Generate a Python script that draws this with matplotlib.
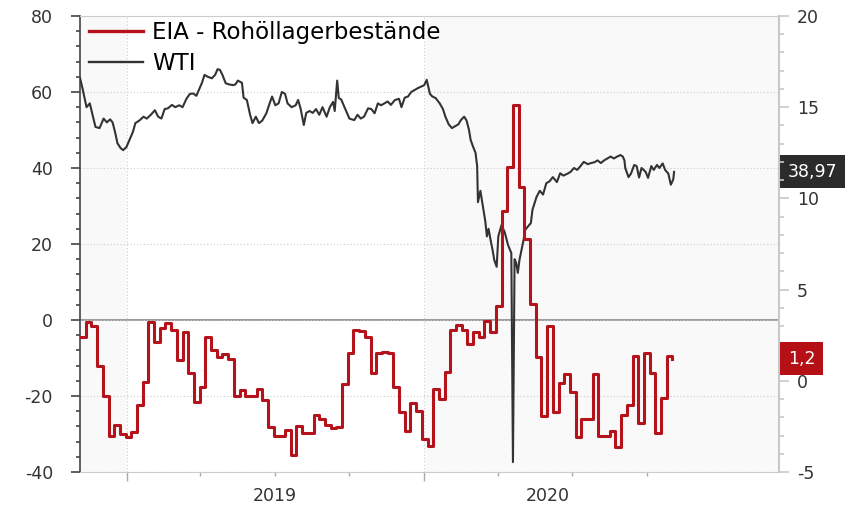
import pandas as pd
import matplotlib.pyplot as plt
import matplotlib.transforms as mtransforms
from matplotlib.lines import Line2D
from matplotlib.ticker import MultipleLocator, NullFormatter

plt.rcParams['font.family'] = 'DejaVu Sans'
plt.rcParams['axes.unicode_minus'] = False

# WTI daily-ish closes (left axis)
wti_dates = [
    '2018-11-04', '2018-11-07', '2018-11-12', '2018-11-16', '2018-11-20', '2018-11-23', '2018-11-28',
    '2018-12-03', '2018-12-07', '2018-12-11', '2018-12-14', '2018-12-17', '2018-12-20', '2018-12-24',
    '2018-12-27', '2018-12-31', '2019-01-04', '2019-01-08', '2019-01-11', '2019-01-16', '2019-01-21',
    '2019-01-25', '2019-01-30', '2019-02-04', '2019-02-08', '2019-02-12', '2019-02-16', '2019-02-20',
    '2019-02-25', '2019-03-01', '2019-03-06', '2019-03-10', '2019-03-15', '2019-03-19', '2019-03-23',
    '2019-03-27', '2019-03-30', '2019-04-03', '2019-04-06', '2019-04-10', '2019-04-15', '2019-04-19',
    '2019-04-22', '2019-04-25', '2019-04-28', '2019-05-02', '2019-05-06', '2019-05-11', '2019-05-14',
    '2019-05-17', '2019-05-22', '2019-05-24', '2019-05-28', '2019-06-01', '2019-06-04', '2019-06-08',
    '2019-06-12', '2019-06-16', '2019-06-21', '2019-06-25', '2019-06-28', '2019-07-02', '2019-07-06',
    '2019-07-10', '2019-07-14', '2019-07-17', '2019-07-22', '2019-07-27', '2019-07-30', '2019-08-02',
    '2019-08-06', '2019-08-09', '2019-08-13', '2019-08-17', '2019-08-21', '2019-08-25', '2019-08-29',
    '2019-09-03', '2019-09-07', '2019-09-11', '2019-09-13', '2019-09-16', '2019-09-18', '2019-09-21',
    '2019-09-25', '2019-10-01', '2019-10-07', '2019-10-11', '2019-10-15', '2019-10-19', '2019-10-24',
    '2019-10-28', '2019-11-01', '2019-11-05', '2019-11-09', '2019-11-13', '2019-11-17', '2019-11-21',
    '2019-11-26', '2019-12-01', '2019-12-04', '2019-12-08', '2019-12-12', '2019-12-16', '2019-12-20',
    '2019-12-24', '2019-12-28', '2020-01-01', '2020-01-04', '2020-01-08', '2020-01-11', '2020-01-15',
    '2020-01-20', '2020-01-24', '2020-01-27', '2020-01-31', '2020-02-04', '2020-02-08', '2020-02-12',
    '2020-02-15', '2020-02-19', '2020-02-22', '2020-02-25', '2020-02-27', '2020-03-01', '2020-03-04',
    '2020-03-06', '2020-03-07', '2020-03-10', '2020-03-13', '2020-03-16', '2020-03-18', '2020-03-20',
    '2020-03-23', '2020-03-25', '2020-03-27', '2020-03-30', '2020-04-01', '2020-04-05', '2020-04-09',
    '2020-04-13', '2020-04-17', '2020-04-19', '2020-04-21', '2020-04-23', '2020-04-25', '2020-04-27',
    '2020-04-30', '2020-05-02', '2020-05-04', '2020-05-07', '2020-05-11', '2020-05-13', '2020-05-18',
    '2020-05-22', '2020-05-26', '2020-05-30', '2020-06-03', '2020-06-07', '2020-06-12', '2020-06-16',
    '2020-06-20', '2020-06-25', '2020-06-29', '2020-07-03', '2020-07-07', '2020-07-11', '2020-07-15',
    '2020-07-20', '2020-07-24', '2020-07-28', '2020-08-01', '2020-08-05', '2020-08-09', '2020-08-13',
    '2020-08-17', '2020-08-21', '2020-08-25', '2020-08-29', '2020-09-01', '2020-09-03', '2020-09-04',
    '2020-09-08', '2020-09-11', '2020-09-15', '2020-09-18', '2020-09-21', '2020-09-24', '2020-09-29',
    '2020-10-02', '2020-10-06', '2020-10-09', '2020-10-13', '2020-10-16', '2020-10-20', '2020-10-23',
    '2020-10-27', '2020-10-29', '2020-10-30', '2020-11-02', '2020-11-03',
]
wti_values = [
    63.7, 61.0, 56.0, 57.0, 53.5, 50.8, 50.5,
    53.0, 52.0, 52.8, 52.0, 49.5, 46.5, 45.2,
    44.7, 45.5, 47.5, 49.5, 51.8, 52.5, 53.5,
    53.0, 54.0, 55.2, 53.5, 53.0, 55.5, 55.7,
    56.6, 56.0, 56.5, 56.0, 58.3, 59.5, 59.6,
    59.0, 60.5, 62.5, 64.5, 64.0, 63.6, 64.5,
    66.0, 65.8, 64.5, 62.3, 62.0, 61.8, 62.0,
    63.0, 62.4, 58.5, 57.9, 54.0, 51.8, 53.5,
    51.8, 52.5, 54.4, 57.0, 58.8, 56.5, 57.0,
    60.0, 59.5, 57.0, 56.0, 56.5, 57.9, 55.7,
    51.3, 54.5, 55.0, 54.5, 55.5, 54.0, 56.0,
    53.5, 56.0, 57.4, 55.0, 63.0, 58.4, 58.0,
    56.0, 53.0, 52.6, 54.0, 53.0, 53.5, 55.7,
    55.5, 54.4, 57.0, 56.5, 57.0, 57.5, 56.6,
    57.9, 58.2, 56.0, 58.5, 58.8, 60.0, 60.5,
    61.0, 61.4, 61.8, 63.2, 59.5, 58.8, 58.4,
    57.0, 55.5, 53.5, 51.5, 50.5, 51.0, 51.5,
    52.6, 53.5, 52.5, 50.0, 47.4, 45.6, 44.0,
    40.5, 31.0, 34.0, 30.0, 26.0, 22.0, 24.0,
    20.5, 18.4, 15.8, 14.0, 22.0, 25.0, 23.0,
    19.7, 17.6, -37.4, 16.0, 15.0, 12.4, 15.8,
    19.0, 21.0, 23.7, 24.5, 25.5, 29.0, 32.4,
    34.0, 33.0, 36.0, 36.5, 37.6, 36.3, 38.6,
    38.0, 38.5, 39.0, 40.0, 39.5, 40.5, 41.6,
    41.0, 41.3, 41.5, 42.0, 41.3, 42.0, 42.5,
    43.0, 42.5, 43.0, 43.4, 43.0, 42.0, 40.0,
    37.6, 38.5, 40.8, 40.5, 37.5, 40.0, 39.0,
    37.4, 40.5, 39.5, 40.8, 40.0, 41.2, 39.5,
    38.5, 36.5, 35.6, 37.0, 38.97,
]

# EIA weekly crude inventory change (right axis), one value per week
eia_start = '2018-11-04'
eia_values = [
    2.4, 3.2, 3.0, 0.8, -0.85, -3.05, -2.45, -2.9, -3.1, -2.8,
    -1.35, -0.05, 3.2, 2.15, 2.9, 3.15, 2.8, 1.15, 2.7, 0.45,
    -1.15, -0.35, 2.4, 1.7, 1.3, 1.45, 1.2, -0.85, -0.5, -0.85,
    -0.85, -0.45, -1.05, -2.55, -3.0, -3.0, -2.7, -4.05, -2.5, -2.85,
    -2.85, -1.85, -2.1, -2.45, -2.6, -2.55, -0.2, 1.5, 2.8, 2.75,
    2.4, 0.45, 1.55, 1.6, 1.55, -0.35, -1.7, -2.75, -1.2, -1.65,
    -3.2, -3.6, -0.45, -1.0, 0.5, 2.8, 3.05, 2.8, 2.0, 2.65,
    2.4, 3.3, 2.7, 4.1, 9.3, 11.7, 15.1, 10.65, 7.75, 4.2,
    1.3, -1.95, 3.0, -1.7, -0.1, 0.35, -0.6, -3.1, -2.1, -2.1,
    0.35, -3.05, -3.05, -2.75, -3.65, -1.85, -1.3, 1.35, -2.3, 1.55,
    0.4, -2.85, -0.95, 1.35, 1.2,
]
eia_dates = pd.date_range(eia_start, periods=len(eia_values), freq='7D')

year_labels = ['2019', '2020']
year_label_dates = ['2019-07-01', '2020-06-01']

wti_dates = pd.to_datetime(wti_dates)

RED = '#b5121b'
DARK = '#333333'

fig = plt.figure(figsize=(8.66, 5.09), dpi=100)
ax = fig.add_axes([0.0924, 0.0727, 0.8072, 0.8959])
ax2 = ax.twinx()

# alternating year bands
ax.set_facecolor('#f9f9f9')
ax.axvspan(pd.Timestamp('2019-01-01'), pd.Timestamp('2020-01-01'), color='white', zorder=0)

ax.set_xlim(pd.Timestamp('2018-11-04'), pd.Timestamp('2021-03-12'))
ax.set_ylim(-40, 80)
ax2.set_ylim(-5, 20)

# x ticks: years (long) and quarters (short)
ax.set_xticks(pd.to_datetime(['2019-01-01', '2020-01-01']))
ax.set_xticks(pd.to_datetime(['2019-04-01', '2019-07-01', '2019-10-01',
                              '2020-04-01', '2020-07-01', '2020-10-01']), minor=True)
ax.xaxis.set_major_formatter(NullFormatter())
ax.tick_params(axis='x', which='major', length=6.5, width=1, color='#aaaaaa')
ax.tick_params(axis='x', which='minor', length=3, width=1, color='#aaaaaa')
trans_x = mtransforms.blended_transform_factory(ax.transData, ax.transAxes)
for lab, d in zip(year_labels, year_label_dates):
    ax.text(pd.Timestamp(d), -0.033, lab, transform=trans_x, ha='center', va='top',
            fontsize=12.5, color=DARK)

# left axis
ax.yaxis.set_major_locator(MultipleLocator(20))
ax.yaxis.set_minor_locator(MultipleLocator(4))
ax.tick_params(axis='y', which='major', length=6.5, width=1.2, color='#444444',
               labelsize=12.5, labelcolor=DARK, pad=13)
ax.tick_params(axis='y', which='minor', length=3, width=1.2, color='#444444')

# right axis
ax2.yaxis.set_major_locator(MultipleLocator(5))
ax2.yaxis.set_minor_locator(MultipleLocator(1))
ax2.tick_params(axis='y', which='major', length=7, width=1.2, color='#c8c8c8',
                labelsize=12.5, labelcolor=DARK, pad=6)
ax2.tick_params(axis='y', which='minor', length=3.5, width=1.2, color='#c8c8c8')

for s in ['top', 'bottom']:
    ax.spines[s].set_color('#cccccc')
ax.spines['left'].set_color('#444444')
ax.spines['left'].set_linewidth(1.2)
ax.spines['right'].set_visible(False)
for s in ['top', 'bottom', 'left']:
    ax2.spines[s].set_visible(False)
ax2.spines['right'].set_color('#c8c8c8')
ax2.spines['right'].set_linewidth(1.5)

# grid
ax.grid(True, which='major', linestyle=(0, (1, 2)), color='#cccccc', linewidth=0.8)
ax.axhline(0, color='#999999', linewidth=1.4, zorder=1)

# series
ax.plot(wti_dates, wti_values, color=DARK, linewidth=1.5, zorder=3)
ax2.plot(eia_dates, eia_values, color=RED, linewidth=2.2, drawstyle='steps-post', zorder=3)

# legend
handles = [Line2D([], [], color=RED, linewidth=2.4), Line2D([], [], color=DARK, linewidth=1.7)]
ax2.legend(handles, ['EIA - Rohöllagerbestände', 'WTI'], loc='upper left',
           bbox_to_anchor=(0.013, 0.99), frameon=False, fontsize=16.5,
           handlelength=2.36, handletextpad=0.4, borderpad=0, borderaxespad=0,
           labelspacing=0.37)

# last-value boxes
trans_l = mtransforms.blended_transform_factory(ax.transAxes, ax.transData)
trans_r = mtransforms.blended_transform_factory(ax2.transAxes, ax2.transData)
ax.text(1.0125, wti_values[-1], f'{wti_values[-1]:.2f}'.replace('.', ','), transform=trans_l,
        ha='left', va='center', color='white', fontsize=12.5, clip_on=False, zorder=10,
        bbox=dict(boxstyle='square,pad=0.43', fc='#2b2b2b', ec='none'))
ax2.text(1.0125, eia_values[-1], f'{eia_values[-1]:g}'.replace('.', ','), transform=trans_r,
         ha='left', va='center', color='white', fontsize=12.5, clip_on=False, zorder=10,
         bbox=dict(boxstyle='square,pad=0.43', fc='#b41016', ec='none'))

fig.savefig('out.png', dpi=100)
